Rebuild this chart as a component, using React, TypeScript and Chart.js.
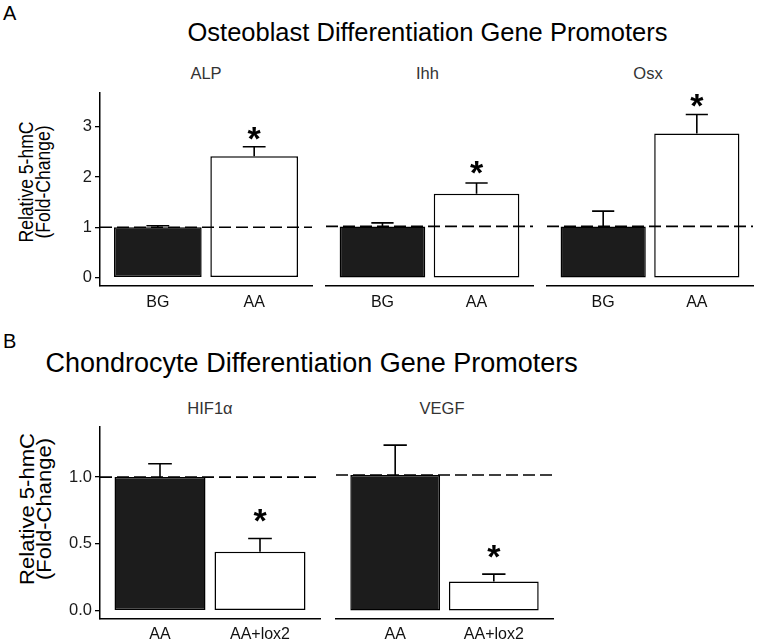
import React, { useEffect, useRef } from 'react';
import { Chart, registerables } from 'chart.js';

Chart.register(...registerables);

const FONT = '"Liberation Sans", Arial, Helvetica, sans-serif';

// ---------- Panel A: Osteoblast differentiation gene promoters ----------
const titleA = 'Osteoblast Differentiation Gene Promoters';
const groupsA = ['BG', 'AA'];
const genesA = ['ALP', 'Ihh', 'Osx'];
const alpMean = [1.0, 2.41];
const alpUpper = [1.03, 2.6];
const alpStar = [null, 2.86];
const ihhMean = [1.0, 1.64];
const ihhUpper = [1.07, 1.85];
const ihhStar = [null, 2.15];
const osxMean = [1.0, 2.82];
const osxUpper = [1.3, 3.19];
const osxStar = [null, 3.46];
const ticksA = [0, 1, 2, 3];
const tickLabelsA = ['0', '1', '2', '3'];

// ---------- Panel B: Chondrocyte differentiation gene promoters ----------
const titleB = 'Chondrocyte Differentiation Gene Promoters';
const groupsB = ['AA', 'AA+lox2'];
const genesB = ['HIF1α', 'VEGF'];
const hifMean = [1.0, 0.44];
const hifUpper = [1.1, 0.54];
const hifStar = [null, 0.71];
const vegfMean = [1.0, 0.214];
const vegfUpper = [1.22, 0.268];
const vegfStar = [null, 0.435];
const ticksB = [0, 0.5, 1];
const tickLabelsB = ['0.0', '0.5', '1.0'];

const yTitle = ['Relative 5-hmC', '(Fold-Change)'];
const refValue = 1;
const barColors = ['#1c1c1c', '#ffffff'];

const annotPlugin = {
  id: 'annot',
  afterDatasetsDraw(chart: any, _args: any, opts: any) {
    const { ctx, chartArea } = chart;
    const y = chart.scales.y;
    const meta = chart.getDatasetMeta(0);
    ctx.save();
    ctx.strokeStyle = '#000';
    ctx.lineWidth = 1.6;
    ctx.lineCap = 'butt';
    meta.data.forEach((bar: any, i: number) => {
      const top = y.getPixelForValue(opts.mean[i]);
      const up = y.getPixelForValue(opts.upper[i]);
      const half = bar.width * 0.13;
      ctx.beginPath();
      ctx.moveTo(bar.x, top);
      ctx.lineTo(bar.x, up);
      ctx.moveTo(bar.x - half, up);
      ctx.lineTo(bar.x + half, up);
      ctx.stroke();
    });
    const ry = y.getPixelForValue(opts.ref);
    ctx.setLineDash([12, 5]);
    ctx.beginPath();
    ctx.moveTo(chartArea.left, ry);
    ctx.lineTo(chartArea.right, ry);
    ctx.stroke();
    ctx.setLineDash([]);
    ctx.fillStyle = '#000';
    ctx.font = `bold 34px ${FONT}`;
    ctx.textAlign = 'center';
    ctx.textBaseline = 'alphabetic';
    const m = ctx.measureText('*');
    const shift = (m.actualBoundingBoxAscent - m.actualBoundingBoxDescent) / 2;
    opts.star.forEach((v: number | null, i: number) => {
      if (v == null) return;
      const bar = meta.data[i];
      ctx.fillText('*', bar.x, y.getPixelForValue(v) + shift);
    });
    ctx.restore();
  },
};

type FacetProps = {
  area: { l: number; t: number; r: number; b: number };
  xh: number;
  labelPad: number;
  groups: string[];
  mean: number[];
  upper: number[];
  star: (number | null)[];
  yMin: number;
  yMax: number;
  ticks: number[];
  tickLabels: string[];
  showY: boolean;
};

function Facet(p: FacetProps) {
  const ref = useRef<HTMLCanvasElement>(null);
  const cl = p.showY ? 0 : p.area.l - 4;
  const cr = p.area.r + 5;
  const ct = p.area.t - 10;
  const cb = p.area.b + p.xh;
  const w = cr - cl;
  const h = cb - ct;
  useEffect(() => {
    const chart = new Chart(ref.current as HTMLCanvasElement, {
      type: 'bar',
      data: {
        datasets: [
          {
            data: p.groups.map((_, i) => ({ x: i, y: p.mean[i] })),
            backgroundColor: barColors,
            borderColor: '#000',
            borderWidth: 1.5,
            borderSkipped: false,
            barPercentage: 0.91,
            categoryPercentage: 1,
          } as any,
        ],
      },
      options: {
        responsive: false,
        animation: false,
        devicePixelRatio: 1,
        layout: {
          padding: {
            top: p.area.t - ct,
            right: cr - p.area.r,
            bottom: 0,
            left: p.showY ? 0 : p.area.l - cl,
          },
        },
        plugins: {
          legend: { display: false },
          tooltip: { enabled: false },
          annot: { mean: p.mean, upper: p.upper, star: p.star, ref: refValue },
        } as any,
        scales: {
          x: {
            type: 'linear',
            offset: false,
            min: -0.6,
            max: p.groups.length - 0.4,
            afterBuildTicks: (s: any) => {
              s.ticks = p.groups.map((_, i) => ({ value: i }));
            },
            afterFit: (s: any) => {
              s.height = p.xh;
            },
            ticks: {
              callback: (v: any) => p.groups[v] ?? '',
              autoSkip: false,
              maxRotation: 0,
              padding: p.labelPad,
              color: '#111',
              font: { family: FONT, size: 16 },
            },
            grid: { display: false, drawTicks: false },
            border: { display: true, color: '#000', width: 1.5 },
          },
          y: {
            display: p.showY,
            min: p.yMin,
            max: p.yMax,
            afterBuildTicks: (s: any) => {
              s.ticks = p.ticks.map((v) => ({ value: v }));
            },
            afterFit: (s: any) => {
              s.width = p.area.l - cl;
            },
            ticks: {
              callback: (_v: any, i: number) => p.tickLabels[i],
              padding: 3,
              color: '#1a1a1a',
              font: { family: FONT, size: 16.5 },
            },
            grid: { drawOnChartArea: false, drawTicks: true, tickLength: 5, color: '#000', lineWidth: 1.3 },
            border: { display: true, color: '#000', width: 1.5 },
          },
        } as any,
      },
      plugins: [annotPlugin],
    });
    return () => chart.destroy();
  }, []);
  return (
    <canvas
      ref={ref}
      width={w}
      height={h}
      style={{ position: 'absolute', left: cl, top: ct, width: w, height: h }}
    />
  );
}

function Label(props: { text: string; x: number; baseline: number; size: number; color?: string; center?: boolean }) {
  const { text, x, baseline, size, color = '#000', center = true } = props;
  return (
    <div
      style={{
        position: 'absolute',
        left: x,
        top: baseline - 0.8465 * size,
        fontFamily: FONT,
        fontSize: size,
        lineHeight: 1,
        color,
        whiteSpace: 'nowrap',
        transform: center ? 'translateX(-50%)' : undefined,
      }}
    >
      {text}
    </div>
  );
}

function YTitle(props: { cx: number; cy: number; size: number; stretch: number }) {
  return (
    <div
      style={{
        position: 'absolute',
        left: props.cx,
        top: props.cy,
        transform: `translate(-50%,-50%) rotate(-90deg) scaleX(${props.stretch})`,
        fontFamily: FONT,
        fontSize: props.size,
        lineHeight: '17px',
        textAlign: 'center',
        whiteSpace: 'nowrap',
        color: '#000',
      }}
    >
      {yTitle[0]}
      <br />
      {yTitle[1]}
    </div>
  );
}

export default function App() {
  const aY = { t: 90, b: 286, min: -0.166, max: 3.67 };
  const bY = { t: 424, b: 619, min: -0.063, max: 1.376 };
  return (
    <div style={{ position: 'absolute', left: 0, top: 0, width: 757, height: 644, background: '#fff', overflow: 'hidden' }}>
      <Label text="A" x={3} baseline={20} size={20} center={false} />
      <Label text={titleA} x={427.5} baseline={41.5} size={25.5} />
      <Label text={genesA[0]} x={206} baseline={79} size={16.5} color="#333" />
      <Label text={genesA[1]} x={427.5} baseline={79} size={16.5} color="#333" />
      <Label text={genesA[2]} x={648} baseline={79} size={16.5} color="#333" />
      <YTitle cx={35} cy={182} size={19.5} stretch={0.9} />
      <Facet area={{ l: 100, t: aY.t, r: 312, b: aY.b }} xh={30} labelPad={7} groups={groupsA} mean={alpMean} upper={alpUpper} star={alpStar} yMin={aY.min} yMax={aY.max} ticks={ticksA} tickLabels={tickLabelsA} showY={true} />
      <Facet area={{ l: 322, t: aY.t, r: 533, b: aY.b }} xh={30} labelPad={7} groups={groupsA} mean={ihhMean} upper={ihhUpper} star={ihhStar} yMin={aY.min} yMax={aY.max} ticks={ticksA} tickLabels={tickLabelsA} showY={false} />
      <Facet area={{ l: 543, t: aY.t, r: 753, b: aY.b }} xh={30} labelPad={7} groups={groupsA} mean={osxMean} upper={osxUpper} star={osxStar} yMin={aY.min} yMax={aY.max} ticks={ticksA} tickLabels={tickLabelsA} showY={false} />

      <Label text="B" x={3} baseline={348} size={20} center={false} />
      <Label text={titleB} x={311.7} baseline={373.3} size={27} />
      <Label text={genesB[0]} x={210} baseline={414} size={16.5} color="#333" />
      <Label text={genesB[1]} x={442} baseline={414} size={16.5} color="#333" />
      <YTitle cx={35.7} cy={509} size={19.5} stretch={1.13} />
      <Facet area={{ l: 100, t: bY.t, r: 320, b: bY.b }} xh={25} labelPad={6} groups={groupsB} mean={hifMean} upper={hifUpper} star={hifStar} yMin={bY.min} yMax={bY.max} ticks={ticksB} tickLabels={tickLabelsB} showY={true} />
      <Facet area={{ l: 332, t: bY.t, r: 553, b: bY.b }} xh={25} labelPad={6} groups={groupsB} mean={vegfMean} upper={vegfUpper} star={vegfStar} yMin={bY.min} yMax={bY.max} ticks={ticksB} tickLabels={tickLabelsB} showY={false} />
    </div>
  );
}
